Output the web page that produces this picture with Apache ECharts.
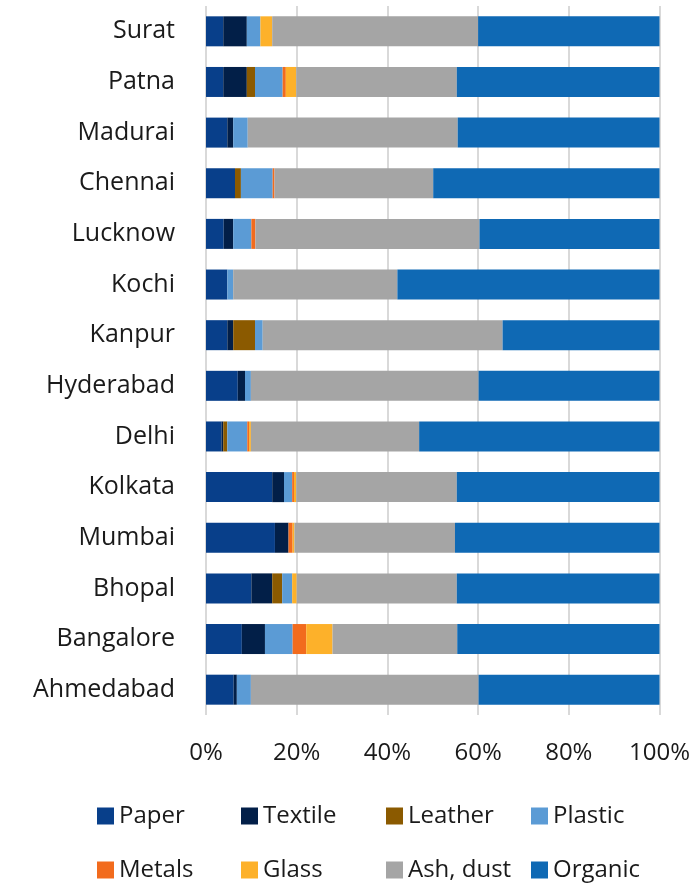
<!DOCTYPE html>
<html>
<head>
<meta charset="utf-8">
<script src="https://cdn.jsdelivr.net/npm/echarts@6/dist/echarts.min.js"></script>
<style>
html,body{margin:0;padding:0;background:#fff;}
#chart{width:693px;height:883px;}
</style>
</head>
<body>
<div id="chart"></div>
<script>
const cities = ['Surat','Patna','Madurai','Chennai','Lucknow','Kochi','Kanpur','Hyderabad','Delhi','Kolkata','Mumbai','Bhopal','Bangalore','Ahmedabad'];
const paper   = [3.8, 3.8, 4.7, 6.4, 3.9, 4.7, 4.7, 7.0, 3.4, 14.6, 15.2, 10.0, 7.9, 6.1];
const textile = [5.2, 5.2, 1.3, 0,   2.1, 0,   1.3, 1.6, 0.4, 2.6,  3.0,  4.6,  5.1, 0.7];
const leather = [0,   1.8, 0,   1.3, 0,   0,   4.8, 0,   0.9, 0,    0,    2.2,  0,   0];
const plastic = [3.0, 6.1, 3.2, 7.0, 4.0, 1.3, 1.7, 1.3, 4.4, 1.8,  0,    2.2,  6.1, 3.1];
const metals  = [0,   0.7, 0,   0.4, 0.9, 0,   0,   0,   0.4, 0.4,  0.9,  0,    3.0, 0];
const glass   = [2.6, 2.3, 0,   0,   0,   0,   0,   0,   0.4, 0.5,  0.4,  1.0,  5.8, 0];
const ash     = [45.4,35.4,46.3,35.0,49.4,36.2,52.9,50.2,37.1,35.4, 35.4, 35.3, 27.5,50.2];
const organic = [40.0,44.7,44.7,49.9,39.9,57.8,34.6,39.9,53.0,44.7, 45.1, 44.7, 44.7,39.9];
const seriesNames = ['Paper','Textile','Leather','Plastic','Metals','Glass','Ash, dust','Organic'];
const seriesColors = ['#083f8a','#021f48','#8b5a00','#5b9bd5','#f26b1d','#fdb12a','#a5a5a5','#0f69b4'];
const xTicks = [0,20,40,60,80,100];

const values = [paper, textile, leather, plastic, metals, glass, ash, organic];
const FONT = 'Open Sans';

const legendPos = [
  {left: 92, top: 799}, {left: 236, top: 799}, {left: 381, top: 799}, {left: 526, top: 799},
  {left: 92, top: 853}, {left: 236, top: 853}, {left: 381, top: 853}, {left: 526, top: 853}
];

const chart = echarts.init(document.getElementById('chart'), null, {renderer: 'canvas'});
chart.setOption({
  animation: false,
  backgroundColor: '#ffffff',
  grid: {left: 206, right: 32, top: 6, bottom: 168, containLabel: false},
  xAxis: {
    type: 'value', min: xTicks[0], max: xTicks[xTicks.length-1], interval: 20,
    axisLine: {show: false}, axisTick: {show: false},
    splitLine: {show: true, lineStyle: {color: '#d9d9d9', width: 2}},
    axisLabel: {formatter: '{value}%', fontFamily: FONT, fontSize: 24, color: '#1a1a1a', margin: 26}
  },
  yAxis: {
    type: 'category', data: cities, inverse: true,
    axisLine: {show: false}, axisTick: {show: false},
    axisLabel: {fontFamily: FONT, fontSize: 25, color: '#1a1a1a', margin: 31}
  },
  legend: seriesNames.map((n, i) => ({
    data: [n], left: legendPos[i].left, top: legendPos[i].top,
    itemWidth: 17, itemHeight: 17, itemGap: 8, icon: 'rect',
    textStyle: {fontFamily: FONT, fontSize: 24, color: '#1a1a1a'}
  })),
  series: seriesNames.map((n, i) => ({
    name: n, type: 'bar', stack: 'total', barWidth: 30,
    itemStyle: {color: seriesColors[i]},
    data: values[i]
  }))
});
</script>
</body>
</html>
